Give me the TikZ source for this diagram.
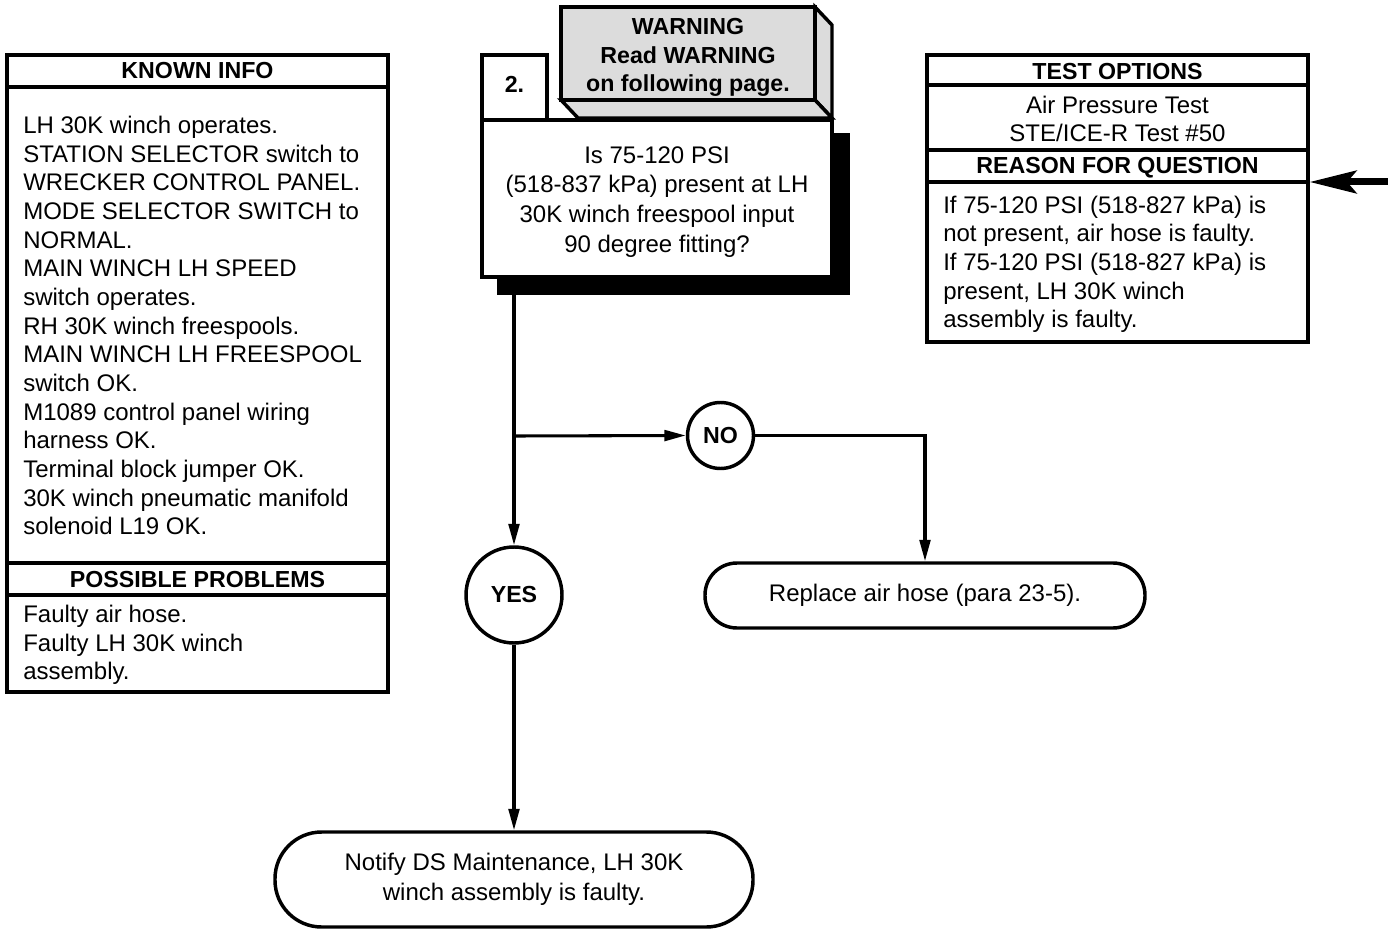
\documentclass[tikz,border=0pt]{standalone}
\usepackage{fontspec}
\setmainfont{Liberation Sans}
\usetikzlibrary{arrows.meta}
\definecolor{warngray}{HTML}{DCDCDC}
\begin{document}
\begin{tikzpicture}[x=0.75pt,y=-0.75pt, line join=miter,
  box/.style={draw, line width=2.6pt, inner sep=0},
  sep/.style={line width=2.6pt},
  conn/.style={line width=2.3pt},
  arr/.style={conn, -{Triangle[length=16pt,width=8pt]}},
  bigarr/.style={line width=5.25pt, -{Stealth[length=35pt,width=17pt,inset=7pt]}},
  hdr/.style={font=\fontsize{17.4}{21.5}\selectfont\bfseries, anchor=base, inner sep=0},
  body/.style={font=\fontsize{18}{21.5}\selectfont, align=left, anchor=north west, inner sep=0},
  cbody/.style={font=\fontsize{18}{21.5}\selectfont, align=center, anchor=north, inner sep=0},
]
\useasboundingbox (0,0) rectangle (1388,930);

% ---------- KNOWN INFO / POSSIBLE PROBLEMS ----------
\node[box, minimum width=285.75pt, minimum height=477.75pt] (known) at (197.5,373.5) {};
\draw[sep] (7,87) -- (388,87);
\draw[sep] (7,563) -- (388,563);
\draw[sep] (7,595) -- (388,595);
\node[hdr] (knownhdr) at (197.5,79) {KNOWN INFO};
\node[body] (knowntxt) at (23,113) {\strut LH 30K winch operates.\\
STATION SELECTOR switch to\\
WRECKER CONTROL PANEL.\\
MODE SELECTOR SWITCH to\\
NORMAL.\\
MAIN WINCH LH SPEED\\
switch operates.\\
RH 30K winch freespools.\\
MAIN WINCH LH FREESPOOL\\
switch OK.\\
M1089 control panel wiring\\
harness OK.\\
Terminal block jumper OK.\\
30K winch pneumatic manifold\\
solenoid L19 OK.};
\node[hdr] (probhdr) at (197.5,587) {POSSIBLE PROBLEMS};
\node[body] (probtxt) at (23,602) {\strut Faulty air hose.\\
Faulty LH 30K winch\\
assembly.};

% ---------- TEST OPTIONS / REASON ----------
\node[box, minimum width=285.75pt, minimum height=215.25pt] (tests) at (1117.5,198.5) {};
\draw[sep] (927,85) -- (1308,85);
\draw[sep] (927,150) -- (1308,150);
\draw[sep] (927,182) -- (1308,182);
\node[hdr] (testhdr) at (1117.5,80) {TEST OPTIONS};
\node[cbody] (testtxt) at (1117.5,93) {\strut Air Pressure Test\\STE/ICE-R Test \#50};
\node[hdr] (reasonhdr) at (1117.5,174) {REASON FOR QUESTION};
\node[body] (reasontxt) at (943,193) {\strut If 75-120 PSI (518-827 kPa) is\\
not present, air hose is faulty.\\
If 75-120 PSI (518-827 kPa) is\\
present, LH 30K winch\\
assembly is faulty.};

% ---------- WARNING ----------
\filldraw[fill=warngray, sep] (815,7) -- (832,25) -- (832,118) -- (815,100) -- cycle;
\filldraw[fill=warngray, sep] (561,100) -- (815,100) -- (832,118) -- (578,118) -- cycle;
\node[box, fill=warngray, minimum width=190.5pt, minimum height=69.75pt] (warn) at (688,53.5) {};
\node[hdr] (warn1) at (688,35) {WARNING};
\node[hdr] (warn2) at (688,64) {Read WARNING};
\node[hdr] (warn3) at (688,92) {on following page.};

% ---------- QUESTION ----------
\node[fill=black, inner sep=0, minimum width=264.75pt, minimum height=121.5pt] (shadow) at (673.5,214) {};
\node[box, fill=white, minimum width=262.5pt, minimum height=117.75pt] (question) at (657,198.5) {};
\node[box, fill=white, minimum width=48.75pt, minimum height=48.75pt] (step2) at (514.5,87.5) {};
\node[hdr] (step2txt) at (514.5,93) {2.};
\node[cbody, font=\fontsize{18}{22.3}\selectfont] (qtxt) at (657,142) {\strut Is 75-120 PSI\\
(518-837 kPa) present at LH\\
30K winch freespool input\\
90 degree fitting?};

% ---------- decisions and results ----------
\node[box, circle, fill=white, minimum size=72pt, font=\fontsize{17.4}{21}\selectfont\bfseries] (yes) at (514,595) {YES};
\node[box, circle, fill=white, minimum size=49.5pt, font=\fontsize{17.4}{21}\selectfont\bfseries] (no) at (720.5,435.5) {NO};
\node[box, rounded corners=24pt, minimum width=330pt, minimum height=48.75pt, font=\fontsize{18}{21.5}\selectfont] (replace) at (925,595.5) {Replace air hose (para 23-5).};
\node[box, rounded corners=35pt, minimum width=358.5pt, minimum height=71.25pt, align=center, font=\fontsize{18}{22.5}\selectfont] (notify) at (514,879.5) {Notify DS Maintenance, LH 30K\\winch assembly is faulty.};

% ---------- connectors ----------
\coordinate (branch) at (514,436);
\coordinate (feed) at (1388,182);
\draw[arr] (yes |- shadow.south) -- (yes.north);
\draw[arr] (branch) -- (no.west);
\draw[arr] (no.east) -| (replace.north);
\draw[arr] (yes.south) -- (notify.north);
\draw[bigarr] (feed) -- (feed -| tests.east);
\end{tikzpicture}
\end{document}
